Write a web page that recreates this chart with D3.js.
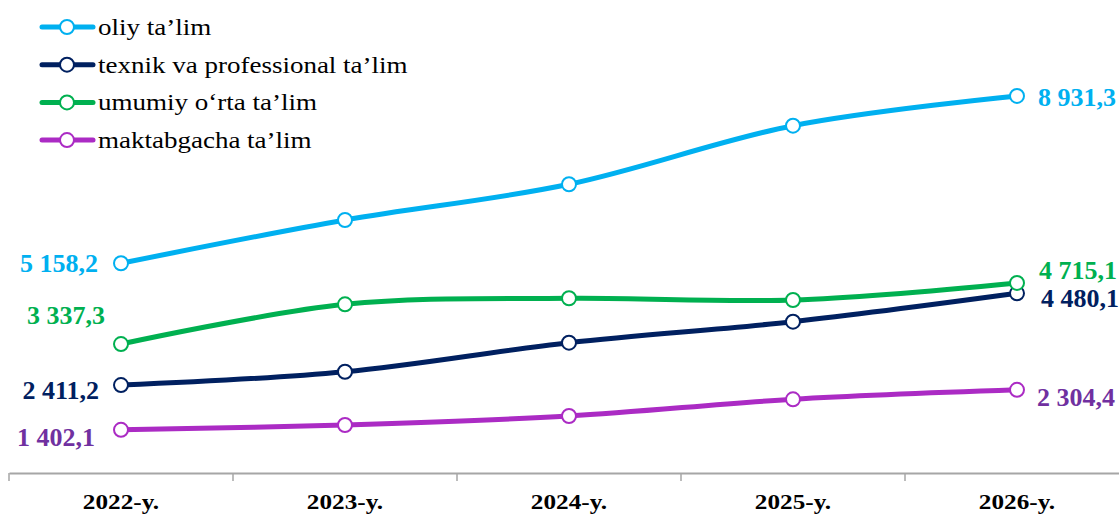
<!DOCTYPE html>
<html>
<head>
<meta charset="utf-8">
<script src="https://cdn.jsdelivr.net/npm/d3@7"></script>
<style>
  body { margin: 0; background: #fff; }
  svg { display: block; }
</style>
</head>
<body>
<svg id="chart" width="1119" height="516"></svg>
<script>
const categories = ["2022-y.", "2023-y.", "2024-y.", "2025-y.", "2026-y."];
const seriesNames = ["oliy ta’lim", "texnik va professional ta’lim", "umumiy o‘rta ta’lim", "maktabgacha ta’lim"];
const oliy = [5158.2, 6134, 6940, 8261, 8931.3];
const texnik = [2411.2, 2713, 3367, 3841, 4480.1];
const umumiy = [3337.3, 4233, 4369, 4330, 4715.1];
const maktab = [1402.1, 1511, 1714, 2091, 2304.4];
const firstLabels = ["5 158,2", "2 411,2", "3 337,3", "1 402,1"];
const lastLabels = ["8 931,3", "4 480,1", "4 715,1", "2 304,4"];

const lineColors = ["#00B0F0", "#002060", "#00B050", "#AB2BC4"];
const labelColors = ["#00B0F0", "#002060", "#00B050", "#7030A0"];
const series = [oliy, texnik, umumiy, maktab];

const svg = d3.select("#chart");
const x = d3.scaleBand().domain(categories).range([9, 1129]);
const y = d3.scaleLinear().domain([400, 9000]).range([474.3, 92.9]);
const cx = c => x(c) + x.bandwidth() / 2;
const serif = "Liberation Serif, Times New Roman, serif";

function stext(g, tx, ty, sx, txt) {
  return g.append("text")
    .attr("transform", `translate(${tx},${ty}) scale(${sx},1)`)
    .attr("x", 0).attr("y", 0)
    .attr("font-family", serif)
    .text(txt);
}

// axis
const axisG = svg.append("g").attr("transform", "translate(0,473)")
  .call(d3.axisBottom(x).tickSize(0).tickPadding(0).tickFormat(""));
axisG.select(".domain").attr("stroke", "#A6A6A6").attr("stroke-width", 2);
axisG.selectAll(".tick").remove();
const bounds = categories.map(c => x(c));
svg.append("g").selectAll("line").data(bounds).join("line")
  .attr("x1", d => d).attr("x2", d => d)
  .attr("y1", 473).attr("y2", 481)
  .attr("stroke", "#A6A6A6").attr("stroke-width", 1.5);
const catG = svg.append("g");
categories.forEach(c => {
  stext(catG, cx(c), 509, 1.2, c)
    .attr("text-anchor", "middle")
    .attr("font-weight", "bold").attr("font-size", 21)
    .attr("fill", "#000");
});

const line = d3.line()
  .x((d, i) => cx(categories[i]))
  .y(d => y(d))
  .curve(d3.curveCardinal.tension(0));

series.forEach((s, k) => {
  svg.append("path").datum(s)
    .attr("d", line)
    .attr("fill", "none")
    .attr("stroke", lineColors[k])
    .attr("stroke-width", 5)
    .attr("stroke-linecap", "round");
});
series.forEach((s, k) => {
  svg.append("g").selectAll("circle").data(s).join("circle")
    .attr("cx", (d, i) => cx(categories[i]))
    .attr("cy", d => y(d))
    .attr("r", 7)
    .attr("fill", "#fff")
    .attr("stroke", lineColors[k])
    .attr("stroke-width", 2);
});

// data labels
const labG = svg.append("g");
const firstDx = [-23, -22, -16, -26];
const firstDy = [9, 14, -20, 16];
const lastDx = [21, 24, 22, 20];
const lastDy = [10, 14, -4, 16];
series.forEach((s, k) => {
  stext(labG, cx(categories[0]) + firstDx[k], y(s[0]) + firstDy[k], 1.04, firstLabels[k])
    .attr("text-anchor", "end")
    .attr("font-weight", "bold").attr("font-size", 25)
    .attr("fill", labelColors[k]);
  stext(labG, cx(categories[4]) + lastDx[k], y(s[4]) + lastDy[k], 1.04, lastLabels[k])
    .attr("text-anchor", "start")
    .attr("font-weight", "bold").attr("font-size", 25)
    .attr("fill", labelColors[k]);
});

// legend
const legend = svg.append("g");
seriesNames.forEach((n, k) => {
  const ly = 27 + k * 37.7;
  const g = legend.append("g").attr("transform", `translate(0,${ly})`);
  g.append("line").attr("x1", 42).attr("x2", 93).attr("y1", 0).attr("y2", 0)
    .attr("stroke", lineColors[k]).attr("stroke-width", 5).attr("stroke-linecap", "round");
  g.append("circle").attr("cx", 67).attr("cy", 0).attr("r", 7)
    .attr("fill", "#fff").attr("stroke", lineColors[k]).attr("stroke-width", 2);
  stext(g, 98, 8, 1.2, n)
    .attr("font-size", 22.5).attr("fill", "#000");
});
</script>
</body>
</html>
